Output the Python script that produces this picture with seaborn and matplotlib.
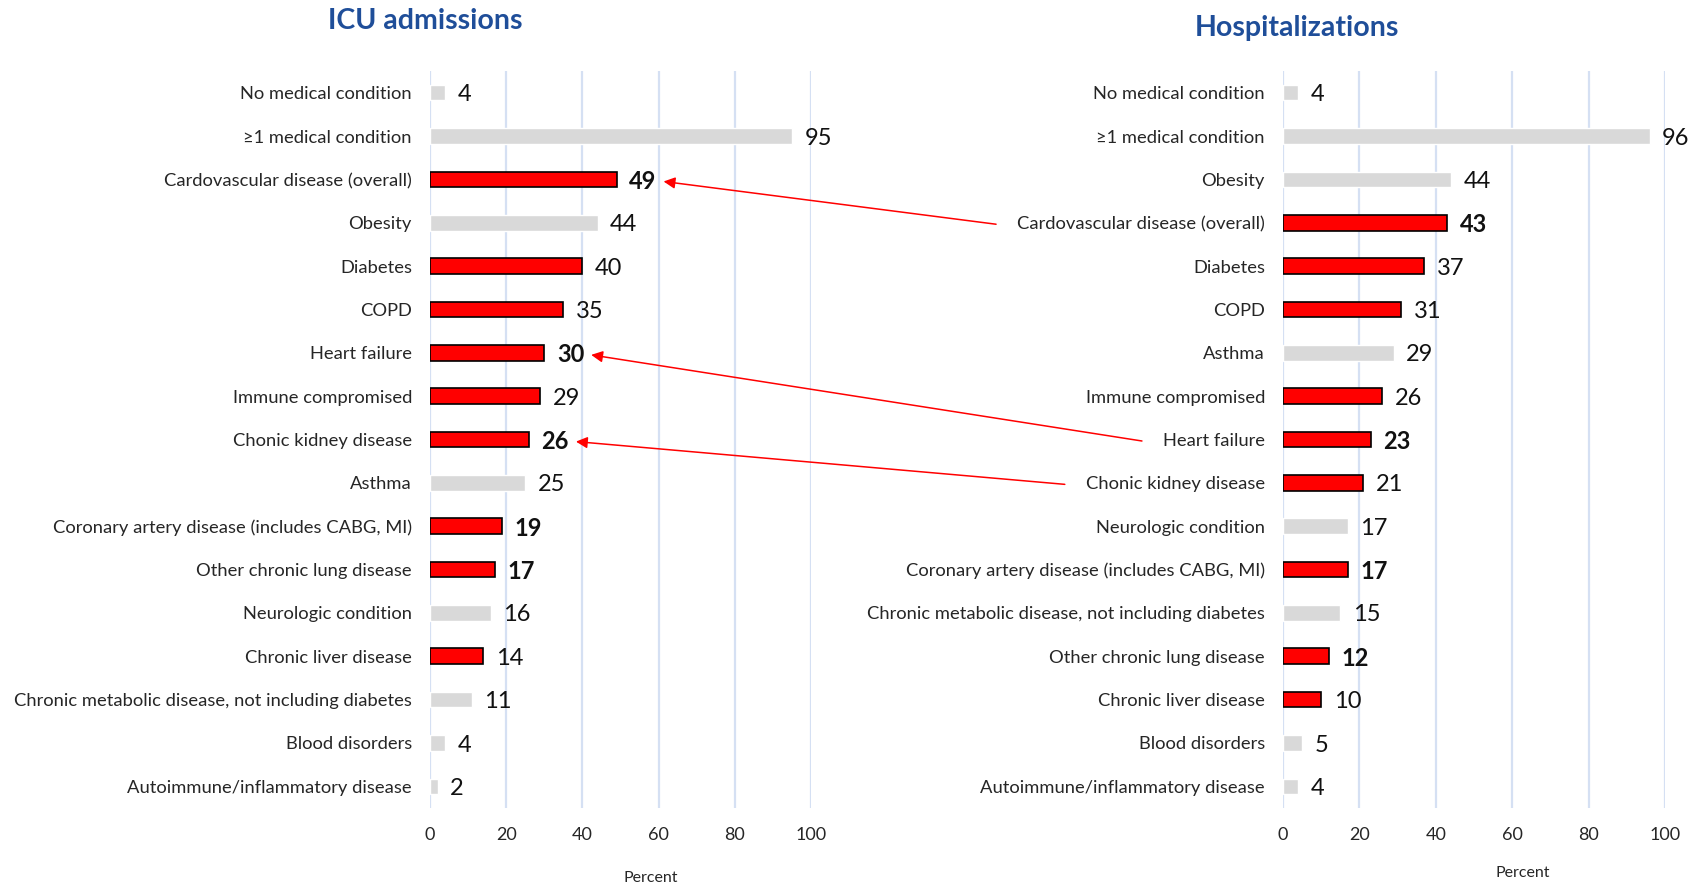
import numpy as np
import pandas as pd
import matplotlib
matplotlib.use("Agg")
import matplotlib.pyplot as plt
import seaborn as sns

# ICU admissions, top to bottom
icu_conditions = [
    "No medical condition",
    "\u22651 medical condition",
    "Cardovascular disease (overall)",
    "Obesity",
    "Diabetes",
    "COPD",
    "Heart failure",
    "Immune compromised",
    "Chonic kidney disease",
    "Asthma",
    "Coronary artery disease (includes CABG, MI)",
    "Other chronic lung disease",
    "Neurologic condition",
    "Chronic liver disease",
    "Chronic metabolic disease, not including diabetes",
    "Blood disorders",
    "Autoimmune/inflammatory disease",
]
icu_values = [4, 95, 49, 44, 40, 35, 30, 29, 26, 25, 19, 17, 16, 14, 11, 4, 2]

# Hospitalizations, top to bottom
hosp_conditions = [
    "No medical condition",
    "\u22651 medical condition",
    "Obesity",
    "Cardovascular disease (overall)",
    "Diabetes",
    "COPD",
    "Asthma",
    "Immune compromised",
    "Heart failure",
    "Chonic kidney disease",
    "Neurologic condition",
    "Coronary artery disease (includes CABG, MI)",
    "Chronic metabolic disease, not including diabetes",
    "Other chronic lung disease",
    "Chronic liver disease",
    "Blood disorders",
    "Autoimmune/inflammatory disease",
]
hosp_values = [4, 96, 44, 43, 37, 31, 29, 26, 23, 21, 17, 17, 15, 12, 10, 5, 4]

# conditions drawn in red
red_conditions = [
    "Cardovascular disease (overall)",
    "Diabetes",
    "COPD",
    "Heart failure",
    "Immune compromised",
    "Chonic kidney disease",
    "Coronary artery disease (includes CABG, MI)",
    "Other chronic lung disease",
    "Chronic liver disease",
]
icu_bold = [
    "Cardovascular disease (overall)",
    "Heart failure",
    "Chonic kidney disease",
    "Coronary artery disease (includes CABG, MI)",
    "Other chronic lung disease",
]
hosp_bold = [
    "Cardovascular disease (overall)",
    "Heart failure",
    "Coronary artery disease (includes CABG, MI)",
    "Other chronic lung disease",
]
# arrows from hospitalization label to ICU value
linked = ["Cardovascular disease (overall)", "Heart failure", "Chonic kidney disease"]
x_ticks = [0, 20, 40, 60, 80, 100]

RED = "#FF0000"
GREY = "#D9D9D9"
GRID = "#D5E0F3"
TITLE = "#1F4E99"

sns.set_theme(style="white")
plt.rcParams["font.family"] = ["Lato", "DejaVu Sans"]
plt.rcParams["text.color"] = "#111111"

W, H = 1695, 884
fig = plt.figure(figsize=(W / 100, H / 100), dpi=100)
ax_icu = fig.add_axes([430 / W, 76 / H, 381 / W, 737 / H])
ax_hosp = fig.add_axes([1283 / W, 76 / H, 382 / W, 737 / H])


def draw_panel(ax, conditions, values, bold, label_xy):
    df = pd.DataFrame({"condition": conditions, "value": values})
    df["group"] = np.where(df["condition"].isin(red_conditions), "red", "grey")
    sns.barplot(data=df, x="value", y="condition", hue="group", order=conditions,
                palette={"red": RED, "grey": GREY}, dodge=False, width=0.36,
                saturation=1, legend=False, ax=ax)
    for p in ax.patches:
        if p.get_facecolor()[1] < 0.5:
            p.set_edgecolor("black")
            p.set_linewidth(1.2)

    labels = {}
    for i, (c, v) in enumerate(zip(conditions, values)):
        labels[c] = ax.annotate(f"{v}", xy=(v, i), xytext=(9, -1.5), textcoords="offset points",
                                ha="left", va="center", fontsize=17,
                                fontweight="bold" if c in bold else "normal",
                                annotation_clip=False)

    ax.set_xlim(0, 100)
    ax.set_xticks(x_ticks)
    ax.grid(axis="x", color=GRID, linewidth=1.6)
    ax.grid(axis="y", visible=False)
    ax.set_axisbelow(True)
    for s in ax.spines.values():
        s.set_visible(False)
    ax.tick_params(axis="x", length=0, pad=14, labelsize=13)
    ax.tick_params(axis="y", length=0, pad=13, labelsize=13.2)
    ax.set_ylabel("")
    ax.set_xlabel("Percent", fontsize=11.5)
    ax.xaxis.set_label_coords(*label_xy)
    return labels


icu_labels = draw_panel(ax_icu, icu_conditions, icu_values, icu_bold, (0.58, -0.085))
hosp_labels = draw_panel(ax_hosp, hosp_conditions, hosp_values, hosp_bold, (0.628, -0.079))

fig.text(425 / W, 1 - 21 / H, "ICU admissions", ha="center", va="center",
         fontsize=20.5, fontweight="bold", color=TITLE)
fig.text(1297 / W, 1 - 28 / H, "Hospitalizations", ha="center", va="center",
         fontsize=20.5, fontweight="bold", color=TITLE)

# arrows: from the start of the hospitalization label to just past the ICU value
fig.canvas.draw()
renderer = fig.canvas.get_renderer()
hosp_ticks = {t.get_text(): t for t in ax_hosp.get_yticklabels()}
for c in linked:
    tb = hosp_ticks[c].get_window_extent(renderer)
    vb = icu_labels[c].get_window_extent(renderer)
    tail = (tb.x0 - 21, (tb.y0 + tb.y1) / 2)
    tip = (vb.x1 + 7, (vb.y0 + vb.y1) / 2)
    ax_icu.annotate("", xy=tip, xycoords="figure pixels", xytext=tail,
                    textcoords="figure pixels", annotation_clip=False,
                    arrowprops=dict(arrowstyle="-|>", color=RED, lw=1.1,
                                    mutation_scale=17, shrinkA=0, shrinkB=0))

fig.savefig("out.png", dpi=100)
